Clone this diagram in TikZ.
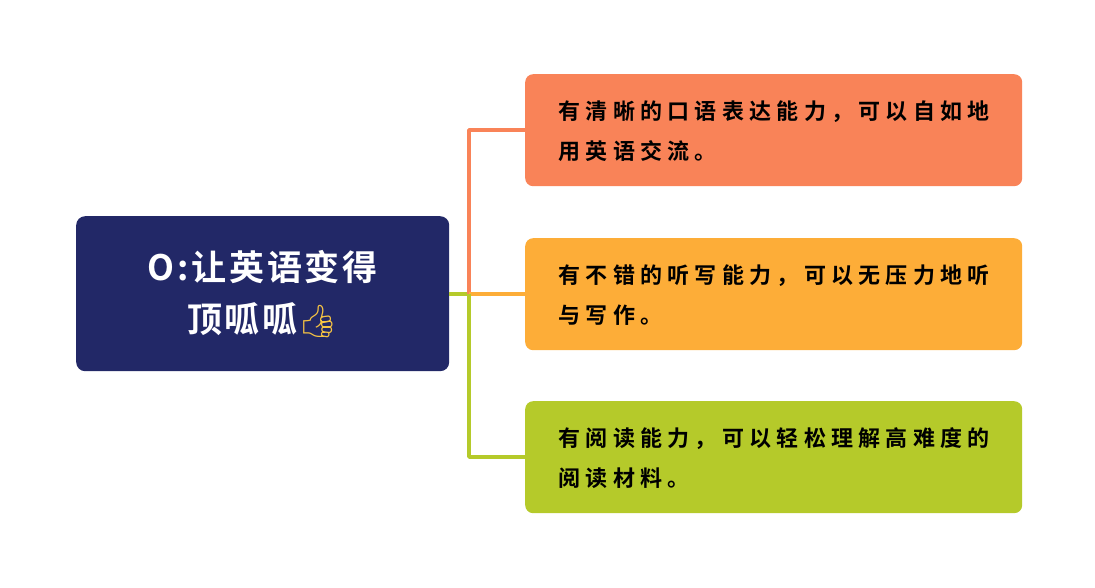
\documentclass[tikz,border=0pt]{standalone}
\usepackage{fontspec}
\newfontfamily\cjk[LetterSpace=24]{Noto Sans CJK SC Bold}
\newfontfamily\cjkroot[LetterSpace=8]{Noto Sans CJK SC Bold}
\newfontfamily\emo{Noto Emoji}
\definecolor{navy}{HTML}{222867}
\definecolor{c1}{HTML}{F98358}
\definecolor{c2}{HTML}{FDAD38}
\definecolor{c3}{HTML}{B5CA2A}
\definecolor{thumb}{HTML}{F6C343}
\begin{document}
\begin{tikzpicture}[x=1pt,y=-1pt,
  leaf/.style={rounded corners=8pt,minimum width=497pt,minimum height=112pt,anchor=north west},
  ltext/.style={anchor=west,font=\cjk\fontsize{22}{40}\selectfont,align=left,text=black},
  conn/.style={line width=3.5pt}]
\useasboundingbox (0,0) rectangle (1095,588);
\node[fill=navy,rounded corners=9pt,minimum width=373pt,minimum height=155pt,anchor=north west] (root) at (76,216) {};
\node[text=white,font=\cjkroot\fontsize{35}{52}\selectfont,align=center] (rt) at (root.center) {O:让英语变得\\顶呱呱{\emo\color{thumb}\fontsize{32}{32}\selectfont 👍}};
\node[leaf,fill=c1] (b1) at (525,74) {};
\node[leaf,fill=c2] (b2) at (525,238) {};
\node[leaf,fill=c3] (b3) at (525,401) {};
\node[ltext] (t1) at (555,131) {有清晰的口语表达能力，可以自如地\\用英语交流。};
\node[ltext] (t2) at (555,295) {有不错的听写能力，可以无压力地听\\与写作。};
\node[ltext] (t3) at (555,458) {有阅读能力，可以轻松理解高难度的\\阅读材料。};
\coordinate (j) at (469,294);
\draw[conn,c3] (root.east |- j) -- (j);
\draw[conn,c1,line join=round] (j) -- (469,130) -- (b1.west |- 0,130);
\draw[conn,c2] (j) -- (b2.west |- j);
\draw[conn,c3,line join=round] (j) -- (469,457) -- (b3.west |- 0,457);
\end{tikzpicture}
\end{document}
